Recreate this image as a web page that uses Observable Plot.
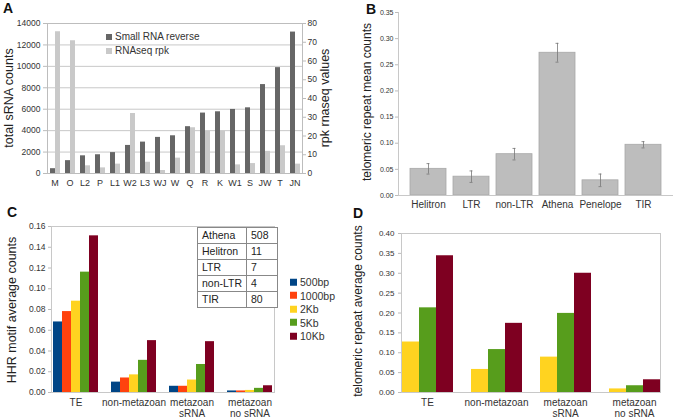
<!DOCTYPE html>
<html><head><meta charset="utf-8">
<script src="https://cdn.jsdelivr.net/npm/d3@7"></script>
<script src="https://cdn.jsdelivr.net/npm/@observablehq/plot@0.6"></script>
<style>
body{margin:0;background:#fff;}
#root{position:relative;width:683px;height:419px;overflow:hidden;font-family:"Liberation Sans",Arial,sans-serif;color:#222;}
.panel{position:absolute;}
.panel svg{background:transparent;overflow:visible;display:block}
.tag{position:absolute;font-weight:bold;font-size:14px;line-height:1;color:#111;}
.ytitle{position:absolute;white-space:nowrap;transform:translate(-50%,-50%) rotate(-90deg);line-height:1;color:#222;}
.leg{position:absolute;font-size:10px;line-height:1;color:#333;white-space:nowrap;}
.leg .row{position:absolute;display:flex;align-items:center;transform:translateY(-50%);}
.leg .sw{display:inline-block;width:6px;height:6px;margin-right:3px;}
#tbl{position:absolute;left:197px;top:227px;border-collapse:collapse;font-size:10.5px;color:#222;background:#fff;}
#tbl td{border:1px solid #888;height:15px;padding:0 0 0 4px;line-height:15px;}
</style></head>
<body><div id="root"></div>
<script>
// ---------- Panel A data ----------
const catsA = ["M","O","L2","P","L1","W2","L3","WJ","W","Q","R","K","W1","S","JW","T","JN"];
const srnaA = [450,1200,1650,1750,1950,2620,2930,3370,3520,4370,5640,5760,5980,6130,8300,9880,13200];
const rpkA  = [75.6,70.8,4.1,3.0,5.0,32.0,6.0,1.6,8.2,24.4,22.4,22.6,4.6,5.3,11.8,14.8,5.0];
const seriesA = ["Small RNA reverse","RNAseq rpk"];
const ticksA = [0,2000,4000,6000,8000,10000,12000,14000];
const ticksArpk = [0,10,20,30,40,50,60,70,80];

// ---------- Panel B data ----------
const catsB = ["Helitron","LTR","non-LTR","Athena","Penelope","TIR"];
const meanB = [0.051,0.036,0.079,0.273,0.029,0.097];
const errB  = [0.010,0.011,0.011,0.018,0.012,0.006];
const ticksB = [0,0.05,0.10,0.15,0.20,0.25,0.30,0.35];

// ---------- Panel C data ----------
const groups = ["TE","non-metazoan","metazoan sRNA","metazoan no sRNA"];
const sizesC = ["500bp","1000bp","2Kb","5Kb","10Kb"];
const c500  = [0.068,0.010,0.006,0.0015];
const c1000 = [0.078,0.014,0.006,0.0015];
const c2k   = [0.088,0.017,0.012,0.002];
const c5k   = [0.116,0.031,0.027,0.004];
const c10k  = [0.151,0.050,0.049,0.0065];
const ticksC = [0,0.02,0.04,0.06,0.08,0.10,0.12,0.14,0.16];
const tableNames = ["Athena","Helitron","LTR","non-LTR","TIR"];
const tableCounts = [508,11,7,4,80];

// ---------- Panel D data ----------
const sizesD = ["2Kb","5Kb","10Kb"];
const d2k  = [0.127,0.058,0.089,0.009];
const d5k  = [0.213,0.108,0.199,0.017];
const d10k = [0.344,0.174,0.300,0.032];
const ticksD = [0,0.05,0.10,0.15,0.20,0.25,0.30,0.35,0.40];

const palette = {"500bp":"#004586","1000bp":"#ff420e","2Kb":"#ffd320","5Kb":"#579d1c","10Kb":"#7e0021"};
const colorsA = ["#666666","#c9c9c9"];

const root = document.getElementById("root");
function style(fs){return {background:"transparent",fontFamily:"Liberation Sans, Arial, sans-serif",fontSize:fs,color:"#333",overflow:"visible"};}
function place(node,left,top){const d=document.createElement("div");d.className="panel";d.style.left=left+"px";d.style.top=top+"px";d.appendChild(node);root.appendChild(d);}
function html(h){root.insertAdjacentHTML("beforeend",h);}

// ---------- Panel A ----------
const rowsA = catsA.flatMap((c,i)=>[
  {cat:c,series:seriesA[0],v:srnaA[i]},
  {cat:c,series:seriesA[1],v:rpkA[i]*14000/80}
]);
place(Plot.plot({
  width:340,height:200,marginLeft:47,marginRight:38,marginTop:23,marginBottom:27,
  style:style("8.5px"),
  fx:{domain:catsA,paddingInner:0,paddingOuter:0,label:null},
  x:{domain:seriesA,paddingInner:0.06,paddingOuter:0.32,axis:null},
  y:{domain:[0,14000],axis:null},
  color:{domain:seriesA,range:colorsA},
  marks:[
    Plot.gridY(ticksA,{stroke:"#c8c8c8",strokeOpacity:1}),
    Plot.barY(rowsA,{fx:"cat",x:"series",y:"v",fill:"series"}),
    Plot.frame({facet:"super",stroke:"#bdbdbd"}),
    Plot.axisY(ticksA,{label:null,tickFormat:d3.format("d"),tickSize:4,tickPadding:3,stroke:"#bbb"}),
    Plot.axisY(ticksArpk.map(t=>t*14000/80),{anchor:"right",label:null,tickFormat:d=>d3.format("d")(d*80/14000),tickSize:3,tickPadding:2,stroke:"#bbb"}),
    Plot.axisFx({anchor:"bottom",tickSize:0,tickPadding:6,fontSize:9,label:null})
  ]
}),0,0);

// ---------- Panel B ----------
const rowsB = catsB.map((c,i)=>({cat:c,mean:meanB[i],err:errB[i]}));
place(Plot.plot({
  width:343,height:215,marginLeft:58,marginRight:10,marginTop:12,marginBottom:20,
  style:style("7px"),
  x:{domain:catsB,paddingInner:0.16,paddingOuter:0.23,axis:null},
  y:{domain:[0,0.35],axis:null},
  marks:[
    Plot.barY(rowsB,{x:"cat",y:"mean",fill:"#bdbdbd",stroke:"#a8a8a8",strokeWidth:0.8}),
    Plot.ruleX(rowsB,{x:"cat",y1:d=>d.mean-d.err,y2:d=>d.mean+d.err,stroke:"#777",strokeWidth:0.8}),
    Plot.tickY(rowsB,{x:"cat",y:d=>d.mean+d.err,insetLeft:16.5,insetRight:16.5,stroke:"#777",strokeWidth:0.8}),
    Plot.tickY(rowsB,{x:"cat",y:d=>d.mean-d.err,insetLeft:16.5,insetRight:16.5,stroke:"#777",strokeWidth:0.8}),
    Plot.ruleY([0],{stroke:"#c8c8c8"}),
    Plot.frame({anchor:"left",stroke:"#c8c8c8"}),
    Plot.axisY(ticksB,{label:null,tickFormat:d3.format(".2f"),tickSize:3,tickPadding:2,stroke:"#bbb"}),
    Plot.axisX({anchor:"bottom",tickSize:0,tickPadding:5,fontSize:10,label:null})
  ]
}),340,0);

// ---------- Panel C ----------
const colsC = [c500,c1000,c2k,c5k,c10k];
const rowsC = groups.flatMap((g,i)=>sizesC.map((s,j)=>({group:g,size:s,v:colsC[j][i]})));
const fmtGroup = g=>g.replace("metazoan ","metazoan\n");
place(Plot.plot({
  width:285,height:219,marginLeft:45,marginRight:5,marginTop:26,marginBottom:27,
  style:style("8.5px"),
  fx:{domain:groups,paddingInner:0.15,paddingOuter:0.07,label:null},
  x:{domain:sizesC,padding:0,axis:null},
  y:{domain:[0,0.16],axis:null},
  color:{domain:sizesC,range:sizesC.map(s=>palette[s])},
  marks:[
    Plot.frame({facet:"super",stroke:"#c8c8c8"}),
    Plot.barY(rowsC,{fx:"group",x:"size",y:"v",fill:"size"}),
    Plot.axisY(ticksC,{label:null,tickFormat:d3.format(".2f"),tickSize:3,tickPadding:3,stroke:"#bbb"}),
    Plot.axisFx({anchor:"bottom",tickSize:0,tickPadding:5,fontSize:10,lineHeight:1.15,label:null,tickFormat:fmtGroup})
  ]
}),0,200);

// ---------- Panel D ----------
const colsD = [d2k,d5k,d10k];
const rowsD = groups.flatMap((g,i)=>sizesD.map((s,j)=>({group:g,size:s,v:colsD[j][i]})));
place(Plot.plot({
  width:343,height:219,marginLeft:52,marginRight:15,marginTop:33,marginBottom:27,
  style:style("8px"),
  fx:{domain:groups,paddingInner:0.25,paddingOuter:0.116,label:null},
  x:{domain:sizesD,padding:0,axis:null},
  y:{domain:[0,0.40],axis:null},
  color:{domain:sizesD,range:sizesD.map(s=>palette[s])},
  marks:[
    Plot.frame({facet:"super",stroke:"#c8c8c8"}),
    Plot.barY(rowsD,{fx:"group",x:"size",y:"v",fill:"size"}),
    Plot.axisY(ticksD,{label:null,tickFormat:d3.format(".2f"),tickSize:3,tickPadding:4,stroke:"#bbb"}),
    Plot.axisFx({anchor:"bottom",tickSize:0,tickPadding:5,fontSize:10,lineHeight:1.15,label:null,tickFormat:fmtGroup})
  ]
}),340,200);

// ---------- HTML text: tags, titles, legends, table ----------
html(`<div class="tag" style="left:3px;top:1px">A</div>`);
html(`<div class="tag" style="left:366px;top:2px">B</div>`);
html(`<div class="tag" style="left:7px;top:205px">C</div>`);
html(`<div class="tag" style="left:353px;top:206px">D</div>`);
html(`<div class="ytitle" style="left:9px;top:98px;font-size:12.5px">total sRNA counts</div>`);
html(`<div class="ytitle" style="left:325px;top:98px;font-size:12.5px">rpk rnaseq values</div>`);
html(`<div class="ytitle" style="left:367px;top:102px;font-size:12px">telomeric repeat mean counts</div>`);
html(`<div class="ytitle" style="left:12px;top:310px;font-size:12.5px">HHR motif average counts</div>`);
html(`<div class="ytitle" style="left:358px;top:311px;font-size:12px">telomeric repeat average counts</div>`);

html(`<div class="leg">${seriesA.map((s,i)=>`<div class="row" style="left:106px;top:${37+i*14}px"><span class="sw" style="background:${colorsA[i]}"></span>${s}</div>`).join("")}</div>`);
html(`<div class="leg" style="font-size:10.5px">${sizesC.map((s,i)=>`<div class="row" style="left:290px;top:${282+i*13.5}px"><span class="sw" style="width:7px;height:7px;background:${palette[s]}"></span>${s}</div>`).join("")}</div>`);
html(`<table id="tbl">${tableNames.map((n,i)=>`<tr><td style="width:44px">${n}</td><td style="width:26px">${tableCounts[i]}</td></tr>`).join("")}</table>`);
</script>
</body></html>
